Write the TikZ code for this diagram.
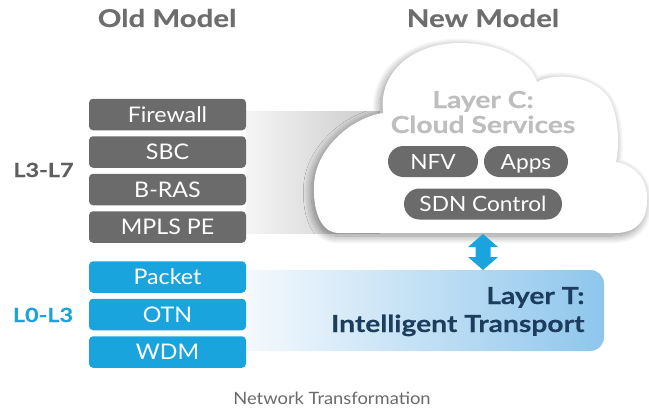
\documentclass[tikz,border=0pt]{standalone}
\usepackage{fontspec}
\setmainfont{Lato}[FakeStretch=1.08]
\newfontfamily\headfont{Lato}[FakeStretch=1.2, BoldFeatures={FakeBold=0.35}]
\usetikzlibrary{shadows.blur}

\definecolor{boxgray}{HTML}{6B6B6B}
\definecolor{boxblue}{HTML}{19A4DE}
\definecolor{titlegray}{HTML}{6D6D6D}
\definecolor{labelgray}{HTML}{5E5E5E}
\definecolor{cloudtext}{HTML}{BEBEBE}
\definecolor{navy}{HTML}{1C3D5E}
\definecolor{bandblue}{HTML}{8EC6EC}
\definecolor{bandlight}{HTML}{F4F9FD}
\definecolor{captiongray}{HTML}{6A6A6A}

\tikzset{
  layerbox/.style={minimum width=157pt, minimum height=31.5pt, inner sep=0pt,
    rounded corners=4pt, text=white, font=\fontsize{21.5}{24}\selectfont,
    text height=15.4pt, text depth=0pt},
  graybox/.style={layerbox, fill=boxgray},
  bluebox/.style={layerbox, fill=boxblue},
  pill/.style={minimum height=31pt, inner sep=0pt, rounded corners=15.5pt,
    fill=boxgray, text=white, font=\fontsize{21}{24}\selectfont,
    text height=15pt, text depth=0pt},
  heading/.style={font=\fontsize{#1}{#1}\headfont\bfseries},
  title/.style={anchor=base, text=titlegray, heading=24.5},
  sidelabel/.style={anchor=base, heading=19.5},
}

\begin{document}
\begin{tikzpicture}[x=1pt, y=-1pt]
\useasboundingbox (0,0) rectangle (649,415);

% titles
\node[title] (oldt) at (167,27) {Old Model};
\node[title] (newt) at (483,27) {New Model};

% grey band leading into the cloud
\shade[left color=gray!8, right color=gray!42] (246,111) rectangle (380,233);

% cloud
\path[fill=white, blur shadow={shadow xshift=-2.5pt, shadow yshift=-3pt,
      shadow blur radius=8pt, shadow blur steps=14, shadow opacity=45}]
  (338,233) .. controls (318,232) and (313,205) .. (314,185)
  .. controls (315,150) and (350,118) .. (383,113)
  .. controls (378,70) and (415,43) .. (460,43)
  .. controls (500,43) and (530,60) .. (537,82)
  .. controls (555,72) and (595,75) .. (610,100)
  .. controls (618,115) and (620,145) .. (616,162)
  .. controls (635,165) and (648,180) .. (647,200)
  .. controls (647,222) and (635,233) .. (615,233)
  -- cycle;
\coordinate (cloudfoot) at (483,234);

% blue band
\shade[left color=bandlight, right color=bandblue]
  (247,270) -- (590,270) .. controls (598,270) and (604,276) .. (604,284)
  -- (604,337) .. controls (604,345) and (598,351) .. (590,351)
  -- (247,351) -- cycle;
\coordinate (bandtop) at (483,270);

% old model stacks
\node[graybox] (fw)   at (167.5,114.5) {Firewall};
\node[graybox] (sbc)  at (167.5,152)   {SBC};
\node[graybox] (bras) at (167.5,189.5) {B-RAS};
\node[graybox] (mpls) at (167.5,227)   {MPLS PE};
\node[bluebox] (pkt)  at (167.5,277)   {Packet};
\node[bluebox] (otn)  at (167.5,314.5) {OTN};
\node[bluebox] (wdm)  at (167.5,352)   {WDM};

\node[sidelabel, text=labelgray] (l37) at (43.5,177) {L3-L7};
\node[sidelabel, text=boxblue]   (l03) at (43,322)   {L0-L3};

% cloud contents
\node[anchor=base, text=cloudtext, heading=23.5] (lc1) at (483,108) {Layer C:};
\node[anchor=base, text=cloudtext, heading=23.5] (lc2) at (483,133) {Cloud Services};
\node[pill, minimum width=90pt] (nfv)  at (433,161.5) {NFV};
\node[pill, minimum width=84pt] (apps) at (526,161.5) {Apps};
\node[pill, minimum width=158pt] (sdn) at (483,204)  {SDN Control};

% transport layer text
\node[anchor=base east, text=navy, heading=23.5] (lt1) at (588,304) {Layer T:};
\node[anchor=base east, text=navy, heading=23.5] (lt2) at (588,332) {Intelligent Transport};

% double arrow between cloud and transport band
\fill[boxblue] (cloudfoot) -- ++(15,13) -- ++(-7.5,0) -- ++(0,10) -- ++(7.5,0)
  -- (bandtop) -- ++(-15,-13) -- ++(7.5,0) -- ++(0,-10) -- ++(-7.5,0) -- cycle;

% caption
\node[anchor=base, text=captiongray, font=\fontsize{17}{19}\selectfont] (cap) at (332,404) {Network Transformation};
\end{tikzpicture}
\end{document}
